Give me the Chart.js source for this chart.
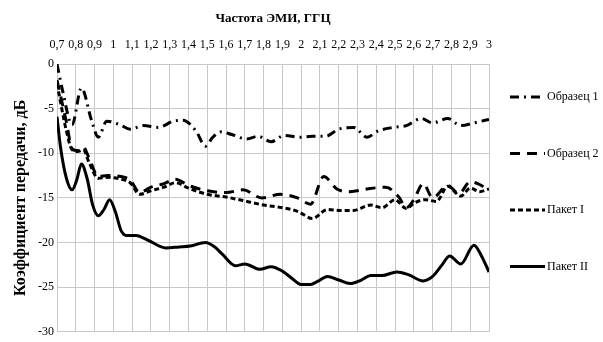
<!DOCTYPE html>
<html>
<head>
<meta charset="utf-8">
<script src="https://cdn.jsdelivr.net/npm/chart.js@4"></script>
<style>
  html, body { margin: 0; padding: 0; background: #fff; }
  #wrap { width: 603px; height: 342px; }
</style>
</head>
<body>
<div id="wrap"><canvas id="data-chart" width="603" height="342"></canvas></div>
<script>
// x axis tick labels (GHz)
const freqTicks = [0.7, 0.8, 0.9, 1, 1.1, 1.2, 1.3, 1.4, 1.5, 1.6, 1.7, 1.8, 1.9, 2, 2.1, 2.2, 2.3, 2.4, 2.5, 2.6, 2.7, 2.8, 2.9, 3];

// Образец 1
const obr1Freq = [0.70, 0.73, 0.78, 0.83, 0.885, 0.92, 0.965, 1.035, 1.09, 1.16, 1.24, 1.32, 1.37, 1.44, 1.49, 1.53, 1.575, 1.63, 1.71, 1.77, 1.84, 1.91, 1.99, 2.06, 2.13, 2.2, 2.28, 2.35, 2.41, 2.49, 2.56, 2.64, 2.70, 2.78, 2.85, 2.92, 3.0];
const obr1Val = [0, -3.0, -6.8, -2.7, -6.4, -8.2, -6.4, -6.8, -7.3, -6.9, -7.1, -6.4, -6.3, -7.5, -9.2, -8.2, -7.6, -7.9, -8.4, -8.1, -8.7, -8.0, -8.2, -8.1, -8.1, -7.3, -7.1, -8.2, -7.5, -7.1, -6.9, -6.1, -6.6, -6.1, -6.9, -6.6, -6.2];

// Образец 2
const obr2Freq = [0.70, 0.75, 0.78, 0.81, 0.84, 0.87, 0.92, 0.97, 1.04, 1.09, 1.14, 1.2, 1.27, 1.33, 1.40, 1.50, 1.60, 1.69, 1.79, 1.89, 1.98, 2.05, 2.12, 2.19, 2.26, 2.35, 2.45, 2.52, 2.56, 2.6, 2.65, 2.7, 2.78, 2.84, 2.9, 2.95, 3.0];
const obr2Val = [-1.8, -6.5, -9.5, -9.7, -9.3, -10.5, -12.6, -12.5, -12.6, -13.0, -14.4, -13.8, -13.4, -12.9, -13.6, -14.2, -14.4, -14.1, -15.0, -14.6, -15.0, -15.7, -12.6, -14.0, -14.3, -14.0, -13.8, -14.9, -16.1, -15.2, -13.4, -15.0, -13.6, -14.5, -13.2, -13.5, -14.2];

// Пакет I
const pak1Freq = [0.70, 0.75, 0.78, 0.81, 0.84, 0.87, 0.92, 0.97, 1.04, 1.09, 1.14, 1.2, 1.27, 1.33, 1.4, 1.5, 1.6, 1.69, 1.8, 1.9, 1.98, 2.06, 2.14, 2.2, 2.28, 2.37, 2.43, 2.5, 2.56, 2.6, 2.66, 2.72, 2.78, 2.85, 2.9, 2.95, 3.0];
const pak1Val = [-2.2, -7.5, -9.6, -9.8, -9.6, -11.0, -12.8, -12.7, -12.9, -13.3, -14.6, -14.2, -13.8, -13.3, -13.9, -14.6, -14.9, -15.3, -15.8, -16.1, -16.5, -17.3, -16.3, -16.4, -16.4, -15.8, -16.1, -15.2, -16.2, -15.6, -15.2, -15.4, -13.7, -14.8, -13.9, -14.3, -14.0];

// Пакет II
const pak2Freq = [0.70, 0.72, 0.75, 0.78, 0.805, 0.83, 0.86, 0.89, 0.92, 0.95, 0.98, 1.01, 1.04, 1.07, 1.12, 1.19, 1.28, 1.35, 1.41, 1.49, 1.54, 1.58, 1.65, 1.70, 1.78, 1.84, 1.9, 1.95, 2.0, 2.05, 2.1, 2.14, 2.2, 2.26, 2.32, 2.37, 2.43, 2.51, 2.57, 2.65, 2.7, 2.75, 2.79, 2.85, 2.92, 2.96, 3.0];
const pak2Val = [-5.9, -9.5, -12.8, -14.1, -13.0, -11.2, -12.8, -15.8, -17.0, -16.3, -15.2, -16.5, -18.6, -19.2, -19.2, -19.8, -20.6, -20.5, -20.4, -20.0, -20.5, -21.3, -22.6, -22.4, -23.0, -22.7, -23.2, -24.0, -24.7, -24.7, -24.2, -23.8, -24.2, -24.6, -24.2, -23.7, -23.7, -23.3, -23.6, -24.3, -23.8, -22.5, -21.5, -22.4, -20.3, -21.5, -23.3];

const toPoints = (xs, ys) => xs.map((x, i) => ({x: x, y: ys[i]}));

document.addEventListener('DOMContentLoaded', () => {
    const serif = '"Liberation Serif", "Times New Roman", serif';

    // legend drawn at the right side, like the original
    const sideLegend = {
        id: 'sideLegend',
        afterDraw(chart) {
            const ctx = chart.ctx;
            ctx.save();
            chart.data.datasets.forEach((ds, i) => {
                const y = 97 + i * 56.5;
                ctx.strokeStyle = '#000';
                ctx.lineWidth = ds.borderWidth;
                ctx.setLineDash(ds.borderDash || []);
                ctx.beginPath();
                ctx.moveTo(510, y);
                ctx.lineTo(545, y);
                ctx.stroke();
                ctx.setLineDash([]);
                ctx.fillStyle = '#000';
                ctx.font = '12px ' + serif;
                ctx.textBaseline = 'middle';
                ctx.fillText(ds.label, 547, y);
            });
            ctx.restore();
        }
    };

    const ctx = document.getElementById('data-chart').getContext('2d');
    const chart = new Chart(ctx, {
        type: 'line',
        data: {
            datasets: [
                { label: 'Образец 1', data: toPoints(obr1Freq, obr1Val), borderDash: [9, 5, 2, 5] },
                { label: 'Образец 2', data: toPoints(obr2Freq, obr2Val), borderDash: [10, 7] },
                { label: 'Пакет I', data: toPoints(pak1Freq, pak1Val), borderDash: [5, 3] },
                { label: 'Пакет II', data: toPoints(pak2Freq, pak2Val), borderDash: [] }
            ].map(d => Object.assign({
                borderColor: '#000',
                borderWidth: 3,
                pointRadius: 0,
                fill: false,
                cubicInterpolationMode: 'monotone'
            }, d))
        },
        options: {
            responsive: false,
            animation: false,
            layout: { padding: { left: 0, top: 0, right: 114, bottom: 7 } },
            plugins: { legend: { display: false }, tooltip: { enabled: false } },
            scales: {
                x: {
                    type: 'linear',
                    position: 'top',
                    min: 0.7,
                    max: 3,
                    afterBuildTicks: scale => { scale.ticks = freqTicks.map(v => ({value: v})); },
                    afterFit: scale => { scale.height = 64; },
                    ticks: {
                        autoSkip: false,
                        maxRotation: 0,
                        padding: 12,
                        color: '#000',
                        font: { family: serif, size: 12 },
                        callback: v => String(Math.round(v * 10) / 10).replace('.', ',')
                    },
                    grid: { color: '#c8c8c8', lineWidth: 1, drawTicks: false },
                    border: { color: '#c8c8c8' },
                    title: {
                        display: true,
                        text: 'Частота ЭМИ, ГГЦ',
                        color: '#000',
                        font: { family: serif, size: 13, weight: 'bold' },
                        padding: { top: 11, bottom: 0 }
                    }
                },
                y: {
                    min: -30,
                    max: 0,
                    afterFit: scale => { scale.width = 57; },
                    ticks: {
                        stepSize: 5,
                        padding: 3,
                        color: '#000',
                        font: { family: serif, size: 12 },
                        callback: v => String(v)
                    },
                    grid: { color: '#c8c8c8', lineWidth: 1, drawTicks: false },
                    border: { color: '#c8c8c8' },
                    title: {
                        display: true,
                        text: 'Коэффициент передачи, дБ',
                        color: '#000',
                        font: { family: serif, size: 16, weight: 'bold' },
                        padding: { top: 11, bottom: 0 }
                    }
                }
            }
        },
        plugins: [sideLegend]
    });
});
</script>
</body>
</html>
